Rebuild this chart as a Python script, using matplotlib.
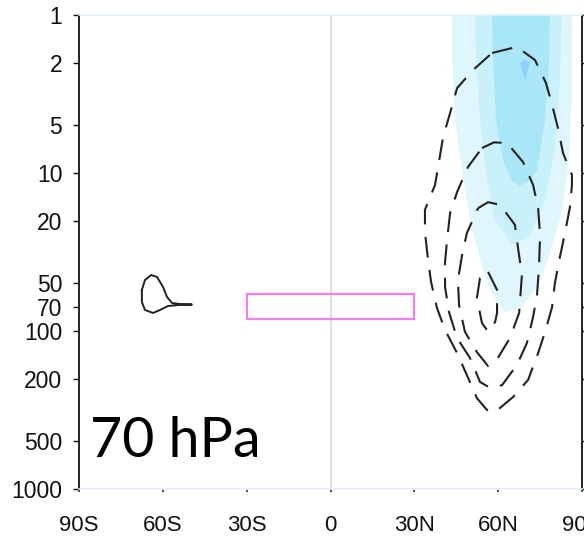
import matplotlib
matplotlib.use("Agg")
import matplotlib.pyplot as plt
from matplotlib.patches import Rectangle

# axis ticks
lat_ticks = [-90, -60, -30, 0, 30, 60, 90]
lat_labels = ["90S", "60S", "30S", "0", "30N", "60N", "90N"]
p_ticks = [1, 2, 5, 10, 20, 50, 70, 100, 200, 500, 1000]

# shaded (positive) levels, outline (lat, hPa)
fill1_lat = [43.5, 43.5, 44.6, 47.1, 49.9, 53.5, 57.1, 62.4, 67.8, 73.2, 77.8, 82.1, 85.0, 86.4, 86.4]
fill1_p = [1.0, 1.93, 4.62, 9.57, 19.8, 35.5, 55.0, 75.8, 71.5, 55.0, 35.5, 19.8, 9.57, 3.45, 1.0]
fill2_lat = [51.7, 52.1, 53.5, 56.0, 58.9, 65.0, 71.4, 76.8, 80.3, 82.1, 82.8]
fill2_p = [1.0, 1.93, 4.62, 11.1, 19.8, 28.6, 24.7, 14.8, 7.15, 2.58, 1.0]
fill3_lat = [57.8, 58.2, 59.2, 61.7, 64.5, 67.8, 71.0, 73.9, 76.8, 78.2, 78.5]
fill3_p = [1.0, 1.93, 4.62, 8.27, 11.0, 12.1, 11.2, 9.57, 4.62, 1.93, 1.0]
fill4_lat = [67.8, 69.2, 71.4, 70.7, 69.6, 68.5]
fill4_p = [2.01, 1.93, 1.98, 2.23, 2.58, 2.23]

# dashed (negative) contours
neg1_lat = [57.8, 66.7, 73.2, 77.1, 79.3, 81.4, 83.2, 86.4, 86.4, 85.7, 83.9, 82.1, 80.3, 79.3,
            76.8, 74.3, 70.7, 65.3, 58.9, 56.0, 52.4, 48.8, 45.3, 41.0, 38.1, 36.0, 34.9, 33.8,
            33.8, 37.4, 38.8, 40.3, 42.8, 45.3, 51.0, 57.8]
neg1_p = [1.74, 1.59, 1.93, 2.69, 3.71, 5.19, 7.47, 10.3, 11.9, 16.4, 24.0, 34.0, 49.7, 70.5,
          101, 138, 204, 262, 326, 316, 266, 190, 138, 98.6, 71.5, 49.0, 35.5, 23.6,
          17.1, 11.9, 8.52, 5.92, 4.17, 2.90, 2.23, 1.74]
neg2_lat = [54.2, 58.5, 63.2, 68.9, 72.5, 74.3, 75.0, 74.6, 73.9, 72.5, 70.3, 66.7, 61.4, 57.1,
            53.5, 49.9, 45.3, 42.4, 41.0, 41.0, 41.7, 42.8, 45.3, 49.2, 54.2]
neg2_p = [6.95, 6.4, 6.46, 8.52, 11.9, 16.7, 24.7, 39.9, 59.2, 81.5, 119, 164, 220, 229,
          210, 148, 111, 75.8, 52.7, 36.6, 26.6, 17.9, 13.2, 9.16, 6.95]
neg3_lat = [52.8, 56.4, 60.7, 66.0, 67.1, 68.5, 67.5, 64.2, 59.9, 56.4, 52.4, 48.1, 46.0, 45.6,
            47.1, 48.8, 52.8]
neg3_p = [16.7, 15.3, 15.9, 21.3, 29.8, 44.2, 76.9, 111, 148, 167, 136, 101, 68.5, 47.6,
          33.0, 24.0, 16.7]
neg4_lat = [56.4, 59.6, 59.6, 58.9, 56.4, 54.2, 52.4, 53.5, 56.4]
neg4_p = [42.3, 55.0, 76.9, 87.7, 101, 89.0, 61.8, 46.2, 42.3]

# solid (positive) contour in the SH
pos_lat = [-67.5, -66.4, -64.2, -62.1, -59.9, -58.5, -56.7, -53.9, -49.6, -54.6, -58.2, -61.0,
           -63.5, -66.4, -67.5, -67.5]
pos_p = [55.0, 47.6, 44.2, 45.5, 52.7, 60.9, 66.5, 67.5, 68.0, 68.5, 69.5, 73.6,
         76.9, 73.6, 65.5, 55.0]

# box for the 70 hPa index
box_lat = (-30, 30)
box_p = (58, 84)


def main():
    plt.rcParams["font.family"] = ["Liberation Sans", "DejaVu Sans"]

    fig = plt.figure(figsize=(5.84, 5.36), dpi=100)
    ax = fig.add_axes([79 / 584, 47 / 536, 503 / 584, 474 / 536])

    ax.set_yscale("log")
    ax.set_xlim(-90, 90)
    ax.set_ylim(1000, 1)

    ax.fill(fill1_lat, fill1_p, color="#dff6fc", lw=0, zorder=1)
    ax.fill(fill2_lat, fill2_p, color="#c9f1fb", lw=0, zorder=1.1)
    ax.fill(fill3_lat, fill3_p, color="#a9e7f8", lw=0, zorder=1.2)
    ax.fill(fill4_lat, fill4_p, color="#8fd2f7", lw=0, zorder=1.3)

    ax.axvline(0, color="#dadada", lw=1.2, zorder=0.8)

    dash = (0, (10, 6))
    for lat, p in [(neg1_lat, neg1_p), (neg2_lat, neg2_p), (neg3_lat, neg3_p), (neg4_lat, neg4_p)]:
        ax.plot(lat, p, color="#222222", lw=1.5, linestyle=dash, zorder=3)
    ax.plot(pos_lat, pos_p, color="#222222", lw=1.4, zorder=3)

    ax.add_patch(Rectangle((box_lat[0], box_p[0]), box_lat[1] - box_lat[0], box_p[1] - box_p[0],
                           fill=False, edgecolor="#f27ff2", lw=1.6, zorder=4))

    ax.set_xticks(lat_ticks)
    ax.set_xticklabels(lat_labels)
    ax.set_yticks(p_ticks)
    ax.set_yticklabels([str(v) for v in p_ticks])
    ax.minorticks_off()

    ax.tick_params(axis="x", direction="out", length=2, width=1.2, pad=16.5,
                   labelsize=16, labelcolor="#111111", color="#333333")
    ax.tick_params(axis="y", direction="out", length=4, width=1, pad=8,
                   labelsize=16.5, labelcolor="#111111", right=True, color="#111111")

    for side in ["top", "bottom"]:
        ax.spines[side].set_color("#dff3fa")
        ax.spines[side].set_linewidth(1.2)
    for side in ["left", "right"]:
        ax.spines[side].set_color("#111111")
        ax.spines[side].set_linewidth(1.3)

    ax.text(0.022, 0.0675, "70 hPa", transform=ax.transAxes, family="Lato",
            fontsize=40, color="black", va="baseline", ha="left", zorder=5)

    fig.savefig("out.png", dpi=100)


if __name__ == "__main__":
    main()
